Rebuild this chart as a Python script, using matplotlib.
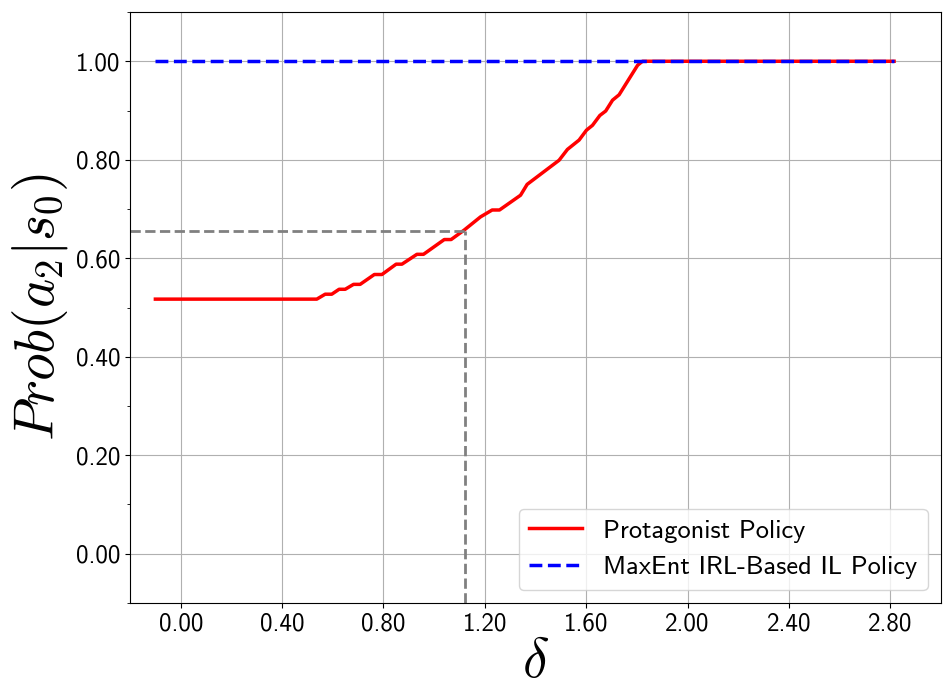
import matplotlib
matplotlib.use("Agg")
import matplotlib.pyplot as plt
from matplotlib.ticker import MultipleLocator

plt.rcParams['font.family'] = ['cmss10', 'DejaVu Sans']
plt.rcParams['mathtext.fontset'] = 'cm'
plt.rcParams['axes.unicode_minus'] = False

# red curve
delta = [-0.1, 0.537, 0.570, 0.596, 0.625, 0.649, 0.682, 0.708, 0.764, 0.794,
         0.850, 0.873, 0.932, 0.958, 1.040, 1.067, 1.118, 1.183, 1.229, 1.258,
         1.341, 1.367, 1.493, 1.526, 1.572, 1.601, 1.625, 1.654, 1.677, 1.704,
         1.730, 1.803, 1.822, 2.815]
prob = [0.517, 0.517, 0.527, 0.527, 0.537, 0.537, 0.547, 0.547, 0.567, 0.567,
        0.588, 0.588, 0.608, 0.608, 0.638, 0.638, 0.657, 0.684, 0.698, 0.698,
        0.728, 0.750, 0.799, 0.821, 0.840, 0.860, 0.870, 0.890, 0.899, 0.921,
        0.932, 0.992, 1.0, 1.0]

maxent_x = [-0.1, 2.815]
maxent_y = [1.0, 1.0]

cross_x = 1.12
cross_y = 0.656

xticks = [0.0, 0.4, 0.8, 1.2, 1.6, 2.0, 2.4, 2.8]
yticks = [0.0, 0.2, 0.4, 0.6, 0.8, 1.0]

fig = plt.figure(figsize=(9.52, 6.87), dpi=100)
ax = fig.add_subplot(111)
fig.subplots_adjust(left=0.1366, right=0.9884, top=0.9825, bottom=0.1223)

ax.plot(delta, prob, color='red', lw=2.5, label='Protagonist Policy')
ax.plot(maxent_x, maxent_y, '--', color='blue', lw=2.5, label='MaxEnt IRL-Based IL Policy')
ax.plot([-0.2, cross_x], [cross_y, cross_y], '--', color='gray', lw=2)
ax.plot([cross_x, cross_x], [-0.1, cross_y], '--', color='gray', lw=2)

ax.set_xlim(-0.2, 3.0)
ax.set_ylim(-0.1, 1.1)
ax.set_xticks(xticks)
ax.set_xticklabels(['%.2f' % v for v in xticks])
ax.set_yticks(yticks)
ax.set_yticklabels(['%.2f' % v for v in yticks])
ax.yaxis.set_minor_locator(MultipleLocator(0.1))
ax.tick_params(labelsize=18)
ax.grid(True)

ax.set_xlabel(r'$\delta$', fontsize=40, labelpad=2)
ax.set_ylabel(r'$Prob(a_2|s_0)$', fontsize=40)
ax.legend(loc='lower right', fontsize=19)

fig.savefig('out.png', dpi=100)
